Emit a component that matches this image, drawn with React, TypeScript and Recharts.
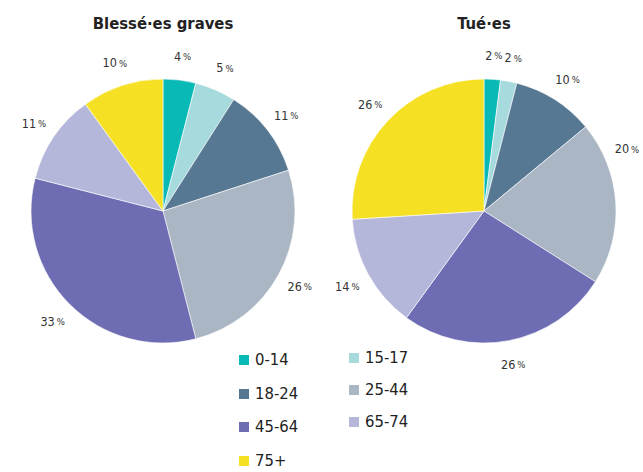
import React from "react";
import {PieChart, Pie, Cell} from 'recharts';

const ageGroups = ["0-14", "15-17", "18-24", "25-44", "45-64", "65-74", "75+"];
const colors = ["#08b9b6", "#a6dadd", "#577893", "#abb6c4", "#6e6db3", "#b5b7da", "#f5e024"];
const injured = [4, 5, 11, 26, 33, 11, 10];
const killed = [2, 2, 10, 20, 26, 14, 26];

const FONT = "'Liberation Sans Narrow', 'DejaVu Sans Condensed', 'Liberation Sans', sans-serif";
const RAD = Math.PI / 180;
const WIDTH = 643;

const injuredData = ageGroups.map((g, i) => ({name: g, value: injured[i]}));
const killedData = ageGroups.map((g, i) => ({name: g, value: killed[i]}));

// label outside the slice; pulled up along the circle if it would run past the right edge
const renderLabel = (p: any) => {
    const r = p.outerRadius + 24;
    let a = 90 - p.midAngle; // clockwise from top
    const maxX = WIDTH - 16;
    if (p.cx + r * Math.sin(a * RAD) > maxX && a < 180) {
        a = Math.asin((maxX - p.cx) / r) / RAD;
    }
    const x = p.cx + r * Math.sin(a * RAD);
    const y = p.cy - r * Math.cos(a * RAD);
    return (
        <text x={x} y={y} textAnchor="middle" dominantBaseline="central"
              fill="#333" stroke="none" fontFamily={FONT} fontSize={12.5}>
            {p.value}<tspan fontSize={9.5} dx={2} fill="#333">%</tspan>
        </text>
    );
};

const App = () => {
    return (
        <div style={{position: "absolute", left: 0, top: 0, width: 643, height: 472, background: "#fff", overflow: "hidden"}}>
            <PieChart width={643} height={472} margin={{top: 0, right: 0, left: 0, bottom: 0}}>
                <text x={163} y={23} textAnchor="middle" dominantBaseline="central"
                      fontFamily={FONT} fontWeight="bold" fontSize={16.5} fill="#222">Blessé·es graves</text>
                <text x={484} y={23} textAnchor="middle" dominantBaseline="central"
                      fontFamily={FONT} fontWeight="bold" fontSize={16.5} fill="#222">Tué·es</text>
                <Pie data={injuredData} dataKey="value" cx={163} cy={211} outerRadius={132}
                     startAngle={90} endAngle={-270} stroke="#fff" strokeWidth={0.6}
                     label={renderLabel} labelLine={false} isAnimationActive={false}>
                    {injuredData.map((d, i) => <Cell key={d.name} fill={colors[i]}/>)}
                </Pie>
                <Pie data={killedData} dataKey="value" cx={484} cy={211} outerRadius={132}
                     startAngle={90} endAngle={-270} stroke="#fff" strokeWidth={0.6}
                     label={renderLabel} labelLine={false} isAnimationActive={false}>
                    {killedData.map((d, i) => <Cell key={d.name} fill={colors[i]}/>)}
                </Pie>
            </PieChart>
            {ageGroups.map((g, i) => {
                const col = i % 2;
                const row = Math.floor(i / 2);
                const left = col === 0 ? 239 : 349;
                const top = col === 0 ? 360 + row * 33.5 : 358 + row * 32;
                return (
                    <div key={g} style={{position: "absolute", left, top: top - 8, height: 16, lineHeight: "16px",
                        display: "flex", alignItems: "center", fontFamily: FONT, fontSize: 16.5, color: "#222"}}>
                        <span style={{display: "inline-block", width: 10, height: 10, background: colors[i], marginRight: 6}}/>
                        {g}
                    </div>
                );
            })}
        </div>
    );
}

export default App;
